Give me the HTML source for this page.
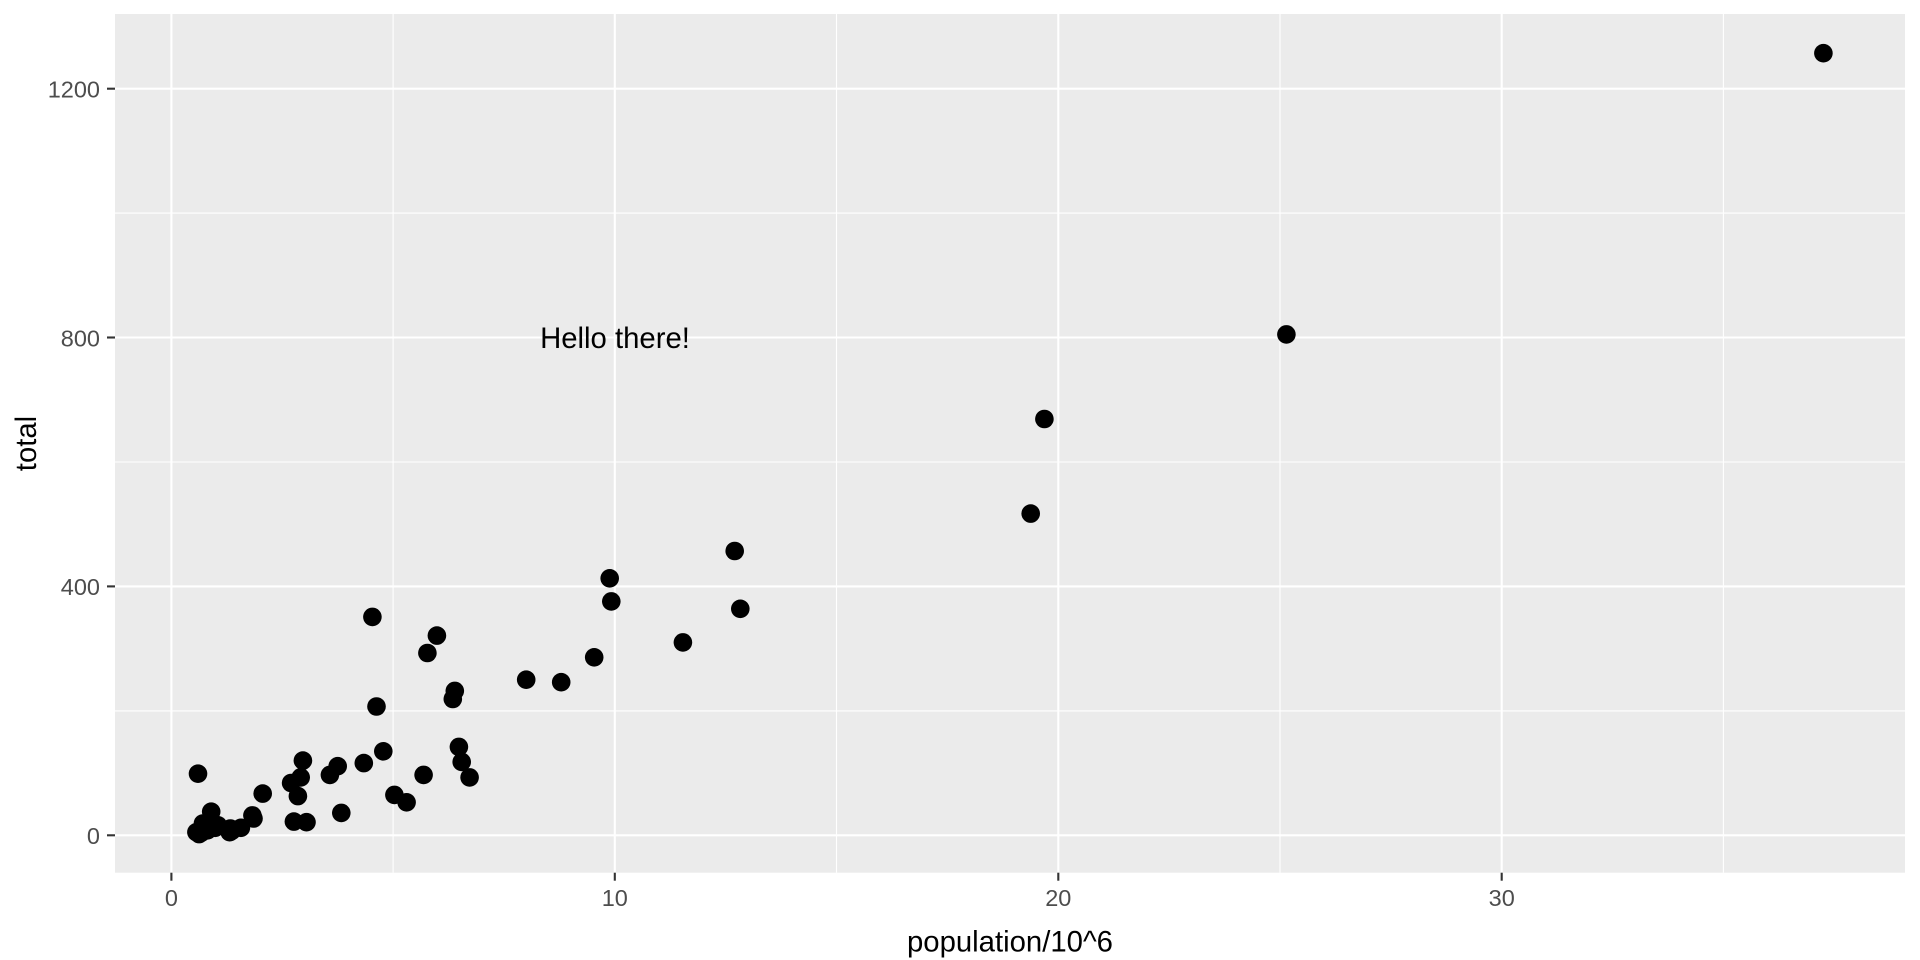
<!DOCTYPE html>
<html>
<head>
<meta charset="utf-8">
<style>
html,body{margin:0;padding:0;background:#fff;}
svg{display:block;}
text{font-family:"Liberation Sans",Arial,sans-serif;}
</style>
</head>
<body>
<svg width="1920" height="960" viewBox="0 0 1920 960" xmlns="http://www.w3.org/2000/svg">
<rect x="0" y="0" width="1920" height="960" fill="#ffffff"/>
<rect x="115" y="14" width="1790" height="858.7" fill="#EBEBEB"/>
<g stroke="#ffffff" stroke-width="1.1">
<line x1="393.1" y1="14" x2="393.1" y2="872.7"/>
<line x1="836.5" y1="14" x2="836.5" y2="872.7"/>
<line x1="1280.0" y1="14" x2="1280.0" y2="872.7"/>
<line x1="1723.4" y1="14" x2="1723.4" y2="872.7"/>
<line x1="115" y1="710.9" x2="1905" y2="710.9"/>
<line x1="115" y1="462.0" x2="1905" y2="462.0"/>
<line x1="115" y1="213.1" x2="1905" y2="213.1"/>
</g>
<g stroke="#ffffff" stroke-width="2.1">
<line x1="171.4" y1="14" x2="171.4" y2="872.7"/>
<line x1="614.8" y1="14" x2="614.8" y2="872.7"/>
<line x1="1058.3" y1="14" x2="1058.3" y2="872.7"/>
<line x1="1501.7" y1="14" x2="1501.7" y2="872.7"/>
<line x1="115" y1="835.3" x2="1905" y2="835.3"/>
<line x1="115" y1="586.4" x2="1905" y2="586.4"/>
<line x1="115" y1="337.5" x2="1905" y2="337.5"/>
<line x1="115" y1="88.7" x2="1905" y2="88.7"/>
</g>
<g fill="#000000">
<circle cx="383.3" cy="751.3" r="9.3"/>
<circle cx="202.9" cy="823.5" r="9.3"/>
<circle cx="454.8" cy="690.9" r="9.3"/>
<circle cx="300.7" cy="777.4" r="9.3"/>
<circle cx="1823.4" cy="53.2" r="9.3"/>
<circle cx="394.4" cy="794.9" r="9.3"/>
<circle cx="329.9" cy="774.9" r="9.3"/>
<circle cx="211.2" cy="811.7" r="9.3"/>
<circle cx="198.0" cy="773.7" r="9.3"/>
<circle cx="1044.4" cy="419.0" r="9.3"/>
<circle cx="611.3" cy="601.4" r="9.3"/>
<circle cx="231.7" cy="830.9" r="9.3"/>
<circle cx="240.9" cy="827.8" r="9.3"/>
<circle cx="740.3" cy="608.8" r="9.3"/>
<circle cx="458.9" cy="746.9" r="9.3"/>
<circle cx="306.5" cy="822.2" r="9.3"/>
<circle cx="297.9" cy="796.1" r="9.3"/>
<circle cx="363.8" cy="763.1" r="9.3"/>
<circle cx="372.4" cy="616.9" r="9.3"/>
<circle cx="230.3" cy="828.5" r="9.3"/>
<circle cx="427.4" cy="653.0" r="9.3"/>
<circle cx="461.7" cy="761.9" r="9.3"/>
<circle cx="609.7" cy="578.3" r="9.3"/>
<circle cx="406.6" cy="802.3" r="9.3"/>
<circle cx="302.9" cy="760.6" r="9.3"/>
<circle cx="436.9" cy="635.6" r="9.3"/>
<circle cx="215.2" cy="827.8" r="9.3"/>
<circle cx="252.4" cy="815.4" r="9.3"/>
<circle cx="291.1" cy="783.0" r="9.3"/>
<circle cx="229.7" cy="832.2" r="9.3"/>
<circle cx="561.2" cy="682.2" r="9.3"/>
<circle cx="262.7" cy="793.6" r="9.3"/>
<circle cx="1030.7" cy="513.6" r="9.3"/>
<circle cx="594.2" cy="657.3" r="9.3"/>
<circle cx="201.2" cy="832.8" r="9.3"/>
<circle cx="682.9" cy="642.4" r="9.3"/>
<circle cx="337.7" cy="766.2" r="9.3"/>
<circle cx="341.3" cy="812.9" r="9.3"/>
<circle cx="734.7" cy="551.0" r="9.3"/>
<circle cx="218.0" cy="825.3" r="9.3"/>
<circle cx="376.5" cy="706.5" r="9.3"/>
<circle cx="207.5" cy="830.3" r="9.3"/>
<circle cx="452.8" cy="699.0" r="9.3"/>
<circle cx="1286.4" cy="334.4" r="9.3"/>
<circle cx="293.9" cy="821.6" r="9.3"/>
<circle cx="199.1" cy="834.1" r="9.3"/>
<circle cx="526.2" cy="679.7" r="9.3"/>
<circle cx="469.6" cy="777.4" r="9.3"/>
<circle cx="253.5" cy="818.5" r="9.3"/>
<circle cx="423.6" cy="774.9" r="9.3"/>
<circle cx="196.4" cy="832.2" r="9.3"/>
</g>
<text x="615" y="348" font-size="29.3" fill="#000000" text-anchor="middle">Hello there!</text>
<g stroke="#333333" stroke-width="2.1">
<line x1="107" y1="835.3" x2="115" y2="835.3"/>
<line x1="107" y1="586.4" x2="115" y2="586.4"/>
<line x1="107" y1="337.5" x2="115" y2="337.5"/>
<line x1="107" y1="88.7" x2="115" y2="88.7"/>
<line x1="171.4" y1="872.7" x2="171.4" y2="880.7"/>
<line x1="614.8" y1="872.7" x2="614.8" y2="880.7"/>
<line x1="1058.3" y1="872.7" x2="1058.3" y2="880.7"/>
<line x1="1501.7" y1="872.7" x2="1501.7" y2="880.7"/>
</g>
<g font-size="23.5" fill="#4D4D4D">
<text x="100" y="844" text-anchor="end">0</text>
<text x="100" y="595.1" text-anchor="end">400</text>
<text x="100" y="346.3" text-anchor="end">800</text>
<text x="100" y="97.5" text-anchor="end">1200</text>
<text x="171.4" y="906" text-anchor="middle">0</text>
<text x="614.8" y="906" text-anchor="middle">10</text>
<text x="1058.3" y="906" text-anchor="middle">20</text>
<text x="1501.7" y="906" text-anchor="middle">30</text>
</g>
<text x="1010" y="951.5" font-size="29.3" fill="#000000" text-anchor="middle">population/10^6</text>
<text x="0" y="0" font-size="29.3" fill="#000000" text-anchor="middle" transform="translate(36,443.5) rotate(-90)">total</text>
</svg>
</body>
</html>
